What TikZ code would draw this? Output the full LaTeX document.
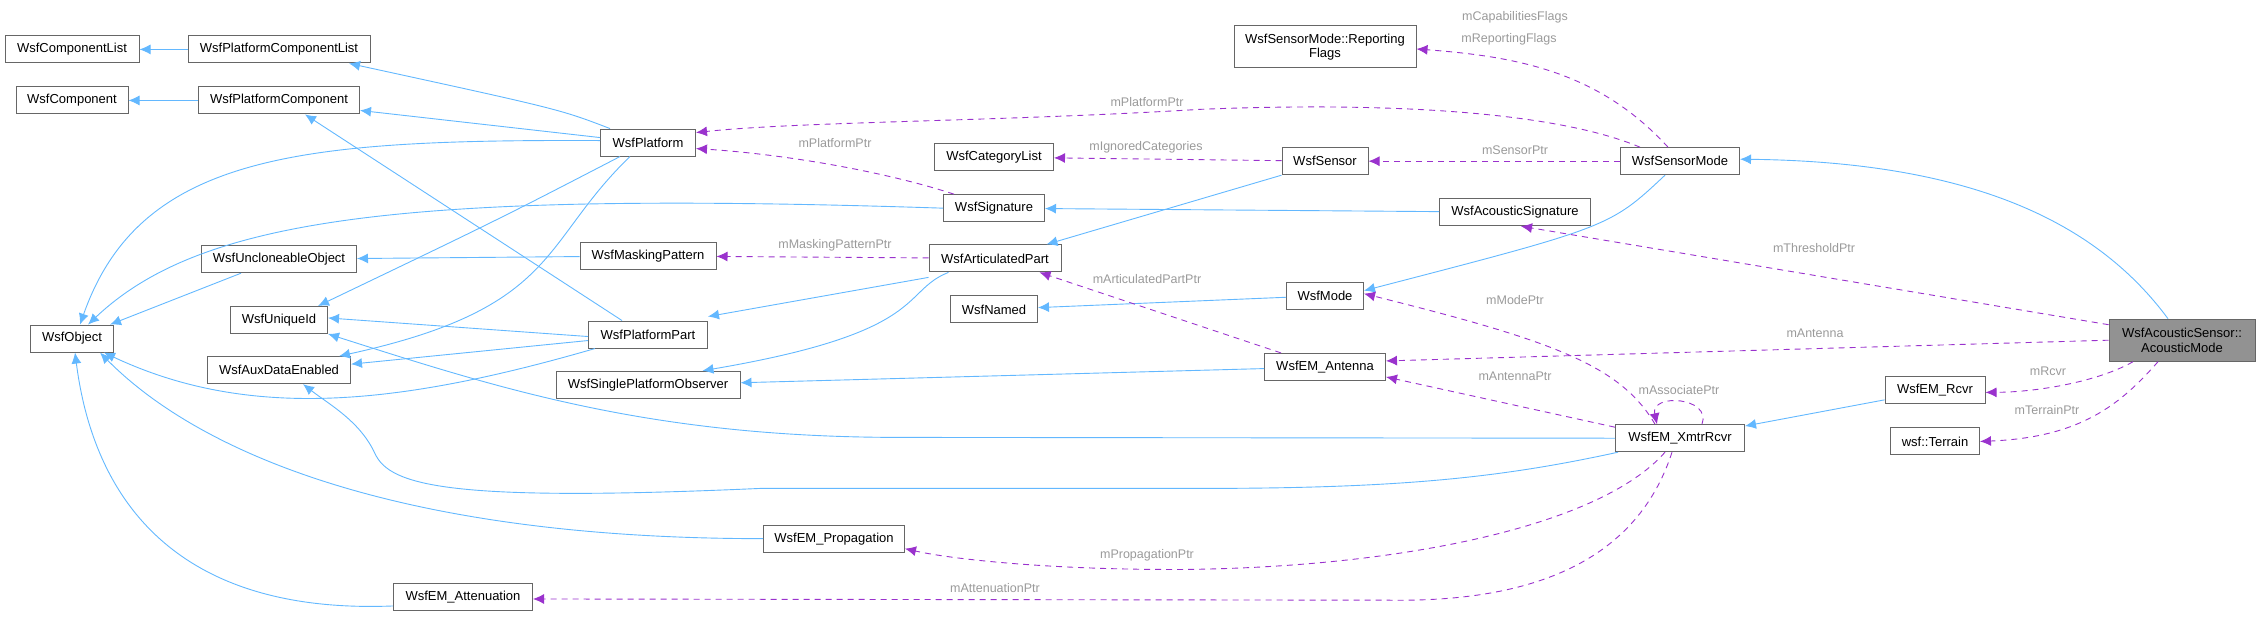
\documentclass[tikz,border=0pt]{standalone}
\usepackage{fontspec}
\setmainfont{Liberation Sans}
\usetikzlibrary{arrows.meta}
\definecolor{inhc}{HTML}{63B8FF}
\definecolor{usec}{HTML}{9A32CD}
\definecolor{labc}{HTML}{9A9A9A}
\definecolor{bord}{HTML}{666666}
\begin{document}
\begin{tikzpicture}[x=1pt,y=-0.81pt,
  box/.style={draw=bord,fill=white,line width=1pt,minimum height=27pt,inner sep=1pt,font=\fontsize{13}{14.5}\selectfont,align=center},
  inh/.style={draw=inhc,line width=0.9pt,-{Latex[length=11pt,width=10pt]}},
  use/.style={draw=usec,line width=0.9pt,dash pattern=on 6pt off 5pt,-{Latex[length=11pt,width=10pt]}},
  lab/.style={text=labc,font=\fontsize{12.5}{14}\selectfont,inner sep=1pt}]
\useasboundingbox (0,0) rectangle (2259,760.5);
% nodes
\node[box,minimum width=134] (cl) at (72,61) {WsfComponentList};
\node[box,minimum width=182] (pcl) at (279,61) {WsfPlatformComponentList};
\node[box,minimum width=112] (comp) at (72,124) {WsfComponent};
\node[box,minimum width=161] (pc) at (279,124) {WsfPlatformComponent};
\node[box,minimum width=95] (plat) at (648,176) {WsfPlatform};
\node[box,minimum width=155] (unc) at (279,320) {WsfUncloneableObject};
\node[box,minimum width=136] (mask) at (648,316) {WsfMaskingPattern};
\node[box,minimum width=97] (uid) at (279,395) {WsfUniqueId};
\node[box,minimum width=83] (obj) at (72,418) {WsfObject};
\node[box,minimum width=119] (pp) at (648,413) {WsfPlatformPart};
\node[box,minimum width=143] (aux) at (279,457) {WsfAuxDataEnabled};
\node[box,minimum width=184] (spo) at (648,475) {WsfSinglePlatformObserver};
\node[box,minimum width=139] (att) at (463,737) {WsfEM\_Attenuation};
\node[box,minimum width=182,minimum height=42] (rf) at (1325,58) {WsfSensorMode::Reporting\\Flags};
\node[box,minimum width=119] (cat) at (994,194) {WsfCategoryList};
\node[box,minimum width=86] (sen) at (1325,199) {WsfSensor};
\node[box,minimum width=101] (sig) at (994,257) {WsfSignature};
\node[box,minimum width=151] (asig) at (1515,262) {WsfAcousticSignature};
\node[box,minimum width=132] (ap) at (995,319) {WsfArticulatedPart};
\node[box,minimum width=87] (named) at (994,382) {WsfNamed};
\node[box,minimum width=77] (mode) at (1325,365) {WsfMode};
\node[box,minimum width=121] (ant) at (1325,453) {WsfEM\_Antenna};
\node[box,minimum width=141] (prop) at (834,665) {WsfEM\_Propagation};
\node[box,minimum width=119] (sm) at (1680,199) {WsfSensorMode};
\node[box,minimum width=146,minimum height=42,fill=labc!95!black] (am) at (2182,420) {WsfAcousticSensor::\\AcousticMode};
\node[box,minimum width=100] (rcvr) at (1935,482) {WsfEM\_Rcvr};
\node[box,minimum width=89] (ter) at (1935,545) {wsf::Terrain};
\node[box,minimum width=129] (xr) at (1680,541) {WsfEM\_XmtrRcvr};
% inheritance
\draw[inh] (pcl) -- (cl);
\draw[inh] (pc) -- (comp);
\draw[inh] ([xshift=-38]plat.north) .. controls (560,135) .. ([xshift=70]pcl.south);
\draw[inh] ([yshift=5]plat.west) -- ([yshift=-10]pc.east);
\draw[inh] ([yshift=2]plat.west) .. controls (300,172) and (140,190) .. ([xshift=8]obj.north);
\draw[inh] ([xshift=-28]plat.south) .. controls (500,270) .. ([xshift=39]uid.north);
\draw[inh] ([xshift=-18]plat.south) .. controls (540,300) and (560,380) .. ([xshift=60]aux.north);
\draw[inh] ([xshift=-26]pp.north) -- ([xshift=26]pc.south);
\draw[inh] ([yshift=-2]pp.west) -- ([yshift=2]uid.east);
\draw[inh] ([yshift=-6]pp.west) -- ([yshift=6]aux.east);
\draw[inh] ([xshift=-53]pp.south) .. controls (400,500) and (250,520) .. ([xshift=32]obj.south);
\draw[inh] ([xshift=-38]unc.south) -- ([xshift=38]obj.north);
\draw[inh] (mask) -- (unc);
\draw[inh] (sig.west) .. controls (400,235) and (200,270) .. ([xshift=16]obj.north);
\draw[inh] ([yshift=-5]ap.south west) -- ([yshift=4]pp.north east);
\draw[inh] ([xshift=20]ap.south west) .. controls (900,360) and (930,410) .. ([xshift=-38]spo.north east);
\draw[inh] (sen.south west) -- ([xshift=-15]ap.north east);
\draw[inh] (asig) -- (sig);
\draw[inh] ([xshift=-15]sm.south) .. controls (1610,280) .. ([yshift=5]mode.east);
\draw[inh] (mode) -- (named);
\draw[inh] (ant) -- ([yshift=2]spo.east);
\draw[inh] (xr.west) -- (900,540) .. controls (650,540) and (500,480) .. ([xshift=49]uid.south);
\draw[inh] ([xshift=3]xr.south west) .. controls (1500,590) and (1400,603) .. (1200,603) -- (760,603) .. controls (450,620) and (390,600) .. (375,560) .. controls (360,520) and (330,500) .. ([xshift=24]aux.south);
\draw[inh] (prop.west) .. controls (400,665) and (200,560) .. ([xshift=28]obj.south);
\draw[inh] ([yshift=-9]att.west) .. controls (150,760) and (90,580) .. ([xshift=3]obj.south);
\draw[inh] (rcvr) -- (xr);
\draw[inh] ([xshift=-14]am.north) .. controls (2100,280) and (1980,200) .. ([yshift=2]sm.east);
% usage
\draw[use] ([xshift=-12]sm.north) .. controls (1600,90) and (1520,70) .. ([yshift=-2]rf.east);
\node[lab] at (1515,21) {mCapabilitiesFlags};
\node[lab] at (1509,48) {mReportingFlags};
\draw[use] ([xshift=-40]sm.north) .. controls (1560,140) and (1400,125) .. (1200,135) .. controls (1000,150) and (800,150) .. ([yshift=10]plat.east);
\node[lab] at (1147,126) {mPlatformPtr};
\draw[use] ([xshift=-40]sig.north) .. controls (880,210) and (780,190) .. ([yshift=-6]plat.east);
\node[lab] at (835,177) {mPlatformPtr};
\draw[use] (sen) -- (cat);
\node[lab] at (1146,182) {mIgnoredCategories};
\draw[use] (sm) -- (sen);
\node[lab] at (1515,185) {mSensorPtr};
\draw[use] ([yshift=-6]am.north west) -- ([xshift=-70]asig.south east);
\node[lab] at (1814,306) {mThresholdPtr};
\draw[use] (ap) -- (mask);
\node[lab] at (835,303) {mMaskingPatternPtr};
\draw[use] ([xshift=-44]ant.north) -- ([xshift=-22]ap.south east);
\node[lab] at (1147,344) {mArticulatedPartPtr};
\draw[use] ([xshift=-25]xr.north) .. controls (1620,450) and (1550,420) .. ([yshift=2]mode.east);
\node[lab] at (1515,370) {mModePtr};
\draw[use] (am.west) -- ([yshift=6]ant.east);
\node[lab] at (1815,412) {mAntenna};
\draw[use] ([yshift=11]xr.west) -- ([yshift=-10]ant.east);
\node[lab] at (1515,465) {mAntennaPtr};
\draw[use] ([xshift=22]xr.north) .. controls (1712,490) and (1650,485) .. ([xshift=-23]xr.north);
\node[lab] at (1679,481) {mAssociatePtr};
\draw[use] ([xshift=-49]am.south) .. controls (2100,470) and (2040,484) .. ([yshift=-2]rcvr.east);
\node[lab] at (2048,458) {mRcvr};
\draw[use] ([xshift=-24]am.south) .. controls (2120,500) and (2080,540) .. (ter.east);
\node[lab] at (2047,506) {mTerrainPtr};
\draw[use] ([xshift=-15]xr.south) .. controls (1600,650) and (1400,700) .. (1186,703) .. controls (1050,704) and (950,690) .. ([yshift=-10]prop.east);
\node[lab] at (1147,686) {mPropagationPtr};
\draw[use] ([xshift=-8]xr.south) .. controls (1640,680) and (1550,741) .. (1400,741) -- ([yshift=-2]att.east);
\node[lab] at (995,726) {mAttenuationPtr};
\end{tikzpicture}
\end{document}
